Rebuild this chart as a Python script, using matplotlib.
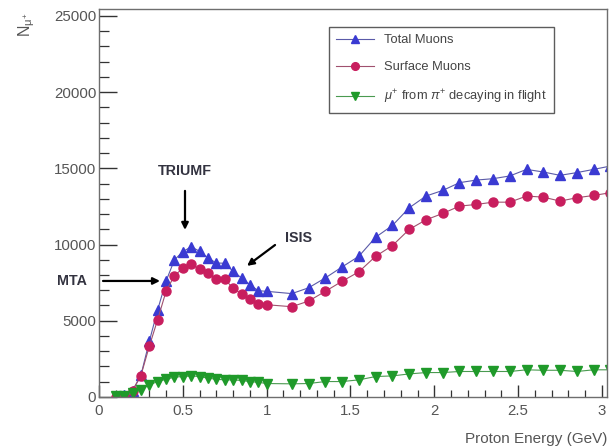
import numpy as np
import matplotlib
matplotlib.use("Agg")
import matplotlib.pyplot as plt
from matplotlib.ticker import MultipleLocator

# ---- data ----
energy = [0.10, 0.15, 0.20, 0.25, 0.30, 0.35, 0.40, 0.45, 0.50, 0.55,
          0.60, 0.65, 0.70, 0.75, 0.80, 0.85, 0.90, 0.95, 1.00,
          1.15, 1.25, 1.35, 1.45, 1.55, 1.65, 1.75, 1.85, 1.95, 2.05,
          2.15, 2.25, 2.35, 2.45, 2.55, 2.65, 2.75, 2.85, 2.95, 3.05]
total_muons = [30, 100, 400, 1420, 3640, 5720, 7600, 8990, 9540, 9850,
               9560, 9120, 8790, 8770, 8240, 7810, 7370, 6970, 6930,
               6780, 7160, 7810, 8530, 9230, 10480, 11250, 12410, 13180, 13550,
               14060, 14230, 14320, 14500, 14930, 14760, 14540, 14720, 14930, 15150]
surface_muons = [20, 60, 420, 1400, 3320, 5080, 6930, 7960, 8440, 8700,
                 8400, 8110, 7740, 7740, 7120, 6780, 6400, 6120, 6050,
                 5920, 6290, 6930, 7590, 8210, 9230, 9930, 10990, 11620, 12040,
                 12520, 12630, 12780, 12780, 13180, 13110, 12850, 13070, 13220, 13400]
decay_muons = [50, 80, 260, 460, 790, 1010, 1160, 1300, 1340, 1380,
               1340, 1230, 1160, 1120, 1120, 1080, 1010, 960, 880,
               860, 880, 1010, 1010, 1120, 1340, 1380, 1510, 1600, 1600,
               1670, 1670, 1670, 1670, 1780, 1750, 1750, 1670, 1780, 1780]

series_labels = ["Total Muons", "Surface Muons",
                 r"$\mu^{+}$ from $\pi^{+}$ decaying in flight"]
xlabel = "Proton Energy (GeV)"
ylabel = r"$\mathregular{N_{\mu^{+}}}$"

plt.rcParams['font.family'] = ['Liberation Sans', 'DejaVu Sans']
plt.rcParams['mathtext.fontset'] = 'custom'
plt.rcParams['mathtext.rm'] = 'Liberation Sans'
plt.rcParams['mathtext.it'] = 'Liberation Sans:italic'

fig = plt.figure(figsize=(6.11, 4.46), dpi=100)
ax = fig.add_axes([0.162, 0.110, 0.8315, 0.870])

c_blue = '#3a3ad2'
c_pink = '#c81e5e'
c_green = '#1f9a2a'

ax.plot(energy, total_muons, color='#5a5aa8', lw=0.8, marker='^', ms=7,
        mec=c_blue, mfc=c_blue, label=series_labels[0], clip_on=True)
ax.plot(energy, surface_muons, color='#a0506e', lw=0.8, marker='o', ms=6.5,
        mec=c_pink, mfc=c_pink, label=series_labels[1], clip_on=True)
ax.plot(energy, decay_muons, color='#4a9a50', lw=0.8, marker='v', ms=7,
        mec=c_green, mfc=c_green, label=series_labels[2], clip_on=True)

ax.set_xlim(0, 3.03)
ax.set_ylim(0, 25460)
ax.xaxis.set_major_locator(MultipleLocator(0.5))
ax.xaxis.set_minor_locator(MultipleLocator(0.1))
ax.yaxis.set_major_locator(MultipleLocator(5000))
ax.yaxis.set_minor_locator(MultipleLocator(1000))
ax.xaxis.set_major_formatter(plt.FuncFormatter(lambda v, p: f"{v:g}"))

frame_col = '#6e6e6e'
for s in ax.spines.values():
    s.set_color(frame_col)
    s.set_linewidth(1.0)
ax.tick_params(axis='both', which='both', direction='in', color='#333333',
               labelcolor='#555555', labelsize=10.8)
ax.tick_params(axis='y', which='major', length=13, width=1.0, pad=2)
ax.tick_params(axis='y', which='minor', length=7.5, width=0.9)
ax.tick_params(axis='x', which='major', length=9, width=1.0, pad=5)
ax.tick_params(axis='x', which='minor', length=5, width=0.9)

ax.set_xlabel(xlabel, fontsize=11, color='#555555', loc='right', labelpad=10)
ax.text(-0.142, 0.99, ylabel, transform=ax.transAxes, rotation=90,
        ha='center', va='top', fontsize=11.5, color='#555555')

leg = ax.legend(loc='upper left', bbox_to_anchor=(0.452, 0.953), fontsize=9.3,
                frameon=True, fancybox=False, edgecolor='#333333',
                handlelength=3.0, handletextpad=0.75, labelspacing=1.15,
                borderpad=0.55, markerscale=0.85, borderaxespad=0)
leg.get_frame().set_linewidth(1.0)
for t in leg.get_texts():
    t.set_color('#444444')

# annotations
txt_col = '#333340'
ax.text(0.513, 14830, "TRIUMF", ha='center', va='center', fontsize=10.3,
        fontweight='bold', color=txt_col)
ax.annotate("", xy=(0.513, 10960), xytext=(0.513, 13520),
            arrowprops=dict(arrowstyle='-|>', color='black', lw=1.6,
                            mutation_scale=10, shrinkA=0, shrinkB=0))
ax.text(1.19, 10430, "ISIS", ha='center', va='center', fontsize=10.3,
        fontweight='bold', color=txt_col)
ax.annotate("", xy=(0.883, 8600), xytext=(1.05, 9970),
            arrowprops=dict(arrowstyle='-|>', color='black', lw=1.6,
                            mutation_scale=10, shrinkA=0, shrinkB=0))
ax.text(-0.161, 7610, "MTA", ha='center', va='center', fontsize=10.3,
        fontweight='bold', color=txt_col, clip_on=False)
ax.annotate("", xy=(0.364, 7610), xytext=(0.024, 7610),
            arrowprops=dict(arrowstyle='-|>', color='black', lw=1.6,
                            mutation_scale=10, shrinkA=0, shrinkB=0),
            annotation_clip=False)

fig.savefig("out.png", dpi=100, facecolor='white')
